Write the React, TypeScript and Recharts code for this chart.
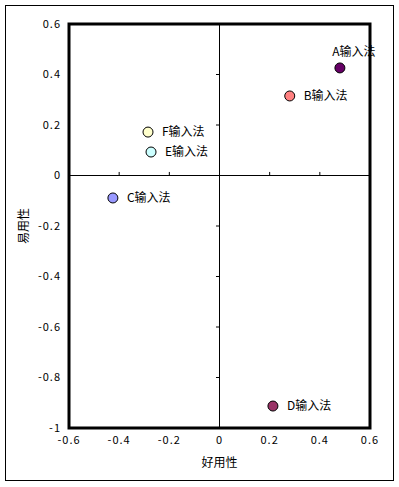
import React from 'react';
import {
  ScatterChart,
  Scatter,
  XAxis,
  YAxis,
  ReferenceLine,
  ReferenceArea,
  Cell,
  LabelList
} from 'recharts';

const names = ['A输入法', 'B输入法', 'C输入法', 'D输入法', 'E输入法', 'F输入法'];
const easeOfUse = [0.48, 0.28, -0.425, 0.213, -0.273, -0.285]; // 好用性
const usability = [0.426, 0.315, -0.089, -0.913, 0.093, 0.172]; // 易用性
const colors = ['#660066', '#FF8080', '#9999FF', '#993366', '#CCFFFF', '#FFFFCC'];

const xTicks = [-0.6, -0.4, -0.2, 0, 0.2, 0.4, 0.6];
const yTicks = [0.6, 0.4, 0.2, 0, -0.2, -0.4, -0.6, -0.8, -1];
const innerXTicks = [-0.4, -0.2, 0.2, 0.4];
const innerYTicks = [0.4, 0.2, -0.2, -0.4, -0.6, -0.8];

const points = names.map((name, i) => ({
  name,
  x: easeOfUse[i],
  y: usability[i]
}));

const FONT = '"Noto Sans CJK SC", sans-serif';

const Dot = (props: any) => {
  const { cx, cy, fill } = props;
  return <circle cx={cx} cy={cy} r={5} fill={fill} stroke="#000" strokeWidth={1} />;
};

const PointLabel = (props: any) => {
  const { x, y, width, height, value, index } = props;
  const cx = x + width / 2;
  const cy = y + height / 2;
  if (index === 0) {
    return (
      <text x={cx + 14} y={cy - 12} textAnchor="middle" fontSize={12} fontFamily={FONT} fill="#000">
        {value}
      </text>
    );
  }
  return (
    <text x={cx + 14} y={cy + 4} textAnchor="start" fontSize={12} fontFamily={FONT} fill="#000">
      {value}
    </text>
  );
};

const YTitle = (props: any) => {
  const { viewBox } = props;
  const tx = viewBox.x + 22;
  const ty = viewBox.y + viewBox.height / 2;
  return (
    <text
      x={tx}
      y={ty}
      transform={`rotate(-90 ${tx} ${ty})`}
      textAnchor="middle"
      dominantBaseline="central"
      fontSize={12}
      fontFamily={FONT}
      fill="#000"
    >
      易用性
    </text>
  );
};

const fmt = (v: number) => String(v);

export default function App() {
  return (
    <div style={{ position: 'absolute', left: 0, top: 0, width: 399, height: 487, background: '#fff' }}>
      <div
        style={{
          position: 'absolute',
          left: 5,
          top: 5,
          width: 387,
          height: 474,
          border: '1px solid #000',
          pointerEvents: 'none'
        }}
      />
      <ScatterChart width={399} height={487} margin={{ top: 24, right: 29, bottom: 0, left: 0 }}>
        <XAxis
          type="number"
          dataKey="x"
          domain={[-0.6, 0.6]}
          ticks={xTicks}
          tickFormatter={fmt}
          tickLine={false}
          axisLine={false}
          height={59}
          tick={{ fontSize: 11, fontFamily: FONT, fill: '#000', letterSpacing: 1 }}
          label={{ value: '好用性', position: 'insideBottom', offset: 20, fontSize: 12, fontFamily: FONT, fill: '#000' }}
        />
        <YAxis
          type="number"
          dataKey="y"
          domain={[-1, 0.6]}
          ticks={yTicks}
          tickFormatter={fmt}
          tickLine={false}
          axisLine={false}
          width={69}
          tick={{ fontSize: 11, fontFamily: FONT, fill: '#000', letterSpacing: 1 }}
          label={<YTitle />}
        />
        <ReferenceLine x={0} stroke="#000" strokeWidth={1} />
        <ReferenceLine y={0} stroke="#000" strokeWidth={1} />
        {innerXTicks.map(t => (
          <ReferenceLine key={`xt${t}`} segment={[{ x: t, y: 0 }, { x: t, y: 0.014 }]} stroke="#000" />
        ))}
        {innerYTicks.map(t => (
          <ReferenceLine key={`yt${t}`} segment={[{ x: 0, y: t }, { x: -0.014, y: t }]} stroke="#000" />
        ))}
        <ReferenceArea x1={-0.6} x2={0.6} y1={-1} y2={0.6} fill="none" stroke="#000" strokeWidth={3} />
        <Scatter data={points} shape={<Dot />} isAnimationActive={false}>
          {points.map((p, i) => (
            <Cell key={p.name} fill={colors[i]} />
          ))}
          <LabelList dataKey="name" content={<PointLabel />} />
        </Scatter>
      </ScatterChart>
    </div>
  );
}
